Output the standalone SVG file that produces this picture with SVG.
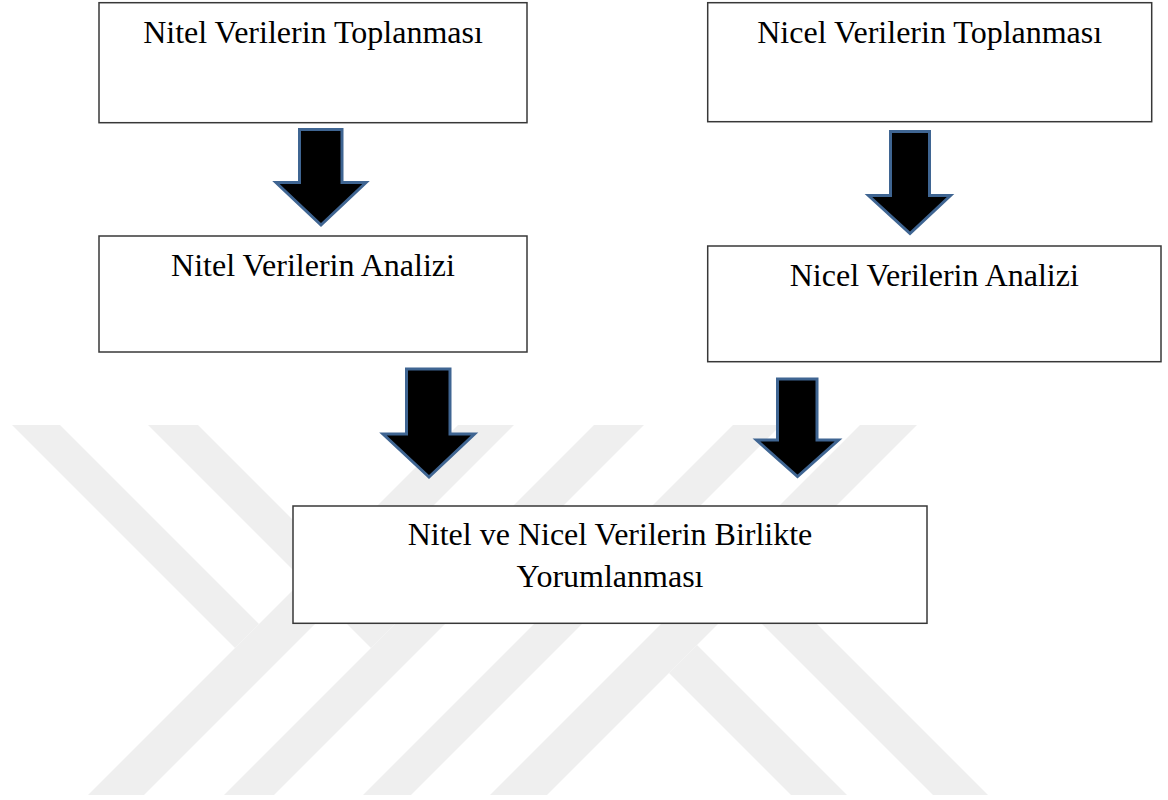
<svg xmlns="http://www.w3.org/2000/svg" width="1168" height="800" viewBox="0 0 1168 800">
<style>
.wm{fill:#efefef;stroke:none}
.box{fill:#ffffff;stroke:#383838;stroke-width:1.5}
.lbl{font-family:"Liberation Serif","Times New Roman",serif;font-size:32px;fill:#000000;text-anchor:middle}
.arr{fill:#000000;stroke:#3f6592;stroke-width:3;stroke-linejoin:miter}
</style>
<rect width="1168" height="800" fill="#ffffff"/>
<g id="watermark">
<polygon class="wm" points="12,425 60,425 259,624 235,648"/>
<polygon class="wm" points="148,425 198,425 396,623 371,648"/>
<polygon class="wm" points="458,425 514,425 144,795 88,795"/>
<polygon class="wm" points="594,425 644,425 274,795 224,795"/>
<polygon class="wm" points="733,425 781,425 411,795 363,795"/>
<polygon class="wm" points="860,425 917,425 547,795 490,795"/>
<polygon class="wm" points="669,673 697,645 847,795 791,795"/>
<polygon class="wm" points="740,602 767.5,574.5 988,795 933,795"/>
</g>
<g id="connectors">
<path class="arr" d="M299.5,129.5 H342 V182.5 H366 L321,225 L276,182.5 H299.5 Z"/>
<path class="arr" d="M890.5,131.5 H929.5 V195.5 H950.5 L910,233.5 L868.5,195.5 H890.5 Z"/>
<path class="arr" d="M406.5,369 H450 V434 H474.5 L429,477 L383,434 H406.5 Z"/>
<path class="arr" d="M777.5,379 H817 V440 H838.5 L797.5,476.5 L756.5,440 H777.5 Z"/>
</g>
<g id="node-nitel-toplanmasi">
<rect class="box" x="99" y="2.7" width="428" height="120"/>
<text class="lbl" x="313" y="43">Nitel Verilerin Toplanması</text>
</g>
<g id="node-nicel-toplanmasi">
<rect class="box" x="707.7" y="2.7" width="444" height="119"/>
<text class="lbl" x="929.7" y="43">Nicel Verilerin Toplanması</text>
</g>
<g id="node-nitel-analizi">
<rect class="box" x="99" y="236" width="428" height="116"/>
<text class="lbl" x="313" y="276">Nitel Verilerin Analizi</text>
</g>
<g id="node-nicel-analizi">
<rect class="box" x="707.7" y="246" width="453.3" height="115.7"/>
<text class="lbl" x="934.3" y="285.7">Nicel Verilerin Analizi</text>
</g>
<g id="node-birlikte-yorumlanmasi">
<rect class="box" x="293" y="506" width="634" height="117.3"/>
<text class="lbl" x="610" y="545">Nitel ve Nicel Verilerin Birlikte</text>
<text class="lbl" x="610" y="586.7">Yorumlanması</text>
</g>
</svg>
